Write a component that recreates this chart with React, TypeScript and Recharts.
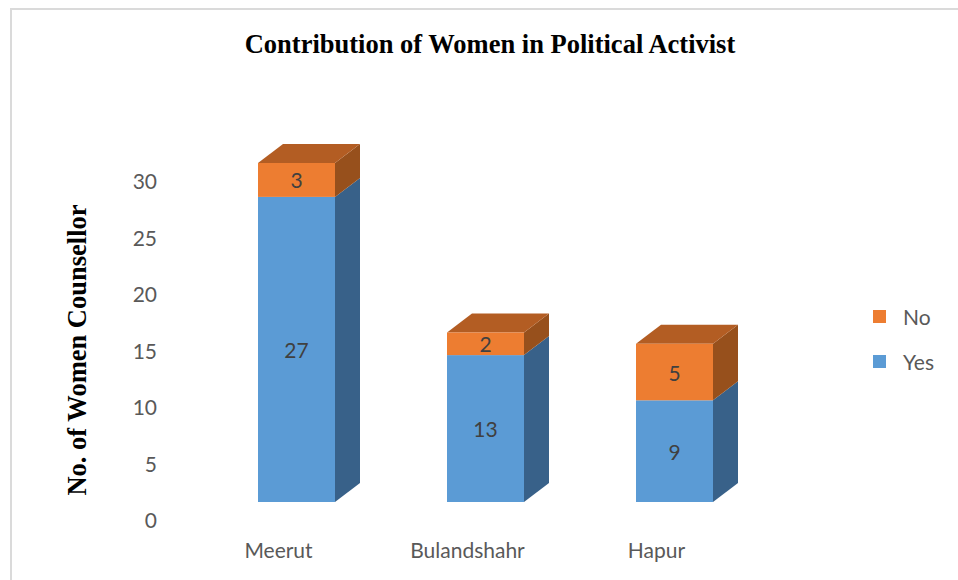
import React from 'react';
import { BarChart, Bar, XAxis, YAxis, LabelList } from 'recharts';

const districts = ['Meerut', 'Bulandshahr', 'Hapur'];
const yesValues = [27, 13, 9];
const noValues = [3, 2, 5];
const yTicks = [0, 5, 10, 15, 20, 25, 30];
const legendNames = ['No', 'Yes'];

const data = districts.map((name, i) => ({ name, Yes: yesValues[i], No: noValues[i] }));

const DEPTH_X = 25;
const DEPTH_Y = 19;
const FONT = 'Lato, "Open Sans", sans-serif';

const faces: Record<string, { front: string; side: string; top: string }> = {
  Yes: { front: '#5B9BD5', side: '#386189', top: '#4A80B3' },
  No: { front: '#ED7D31', side: '#97501C', top: '#B35D23' },
};

const makeBox = (key: 'Yes' | 'No', withTop: boolean) => (props: any) => {
  const { x, y, width, height } = props;
  if (!height || height <= 0) return null;
  const c = faces[key];
  const r = x + width;
  return (
    <g>
      <polygon
        points={`${r},${y} ${r + DEPTH_X},${y - DEPTH_Y} ${r + DEPTH_X},${y + height - DEPTH_Y} ${r},${y + height}`}
        fill={c.side}
      />
      {withTop && (
        <polygon
          points={`${x},${y} ${x + DEPTH_X},${y - DEPTH_Y} ${r + DEPTH_X},${y - DEPTH_Y} ${r},${y}`}
          fill={c.top}
        />
      )}
      <rect x={x} y={y} width={width} height={height} fill={c.front} />
    </g>
  );
};

// Excel draws the value labels on the back wall, a bit below the front face
const YTick = (props: any) => {
  const { y, payload } = props;
  return (
    <text x={157} y={y + 17.5} textAnchor="end" dominantBaseline="central" fill="#595959" fontSize={21} fontFamily={FONT}>
      {payload.value}
    </text>
  );
};

const XTick = (props: any) => {
  const { x, payload } = props;
  return (
    <text x={x - 18} y={549} textAnchor="middle" dominantBaseline="central" fill="#595959" fontSize={21} fontFamily={FONT}>
      {payload.value}
    </text>
  );
};

const ValueLabel = (props: any) => {
  const { x, y, width, height, value } = props;
  return (
    <text x={x + width / 2} y={y + height / 2} textAnchor="middle" dominantBaseline="central" fill="#404040" fontSize={21} fontFamily={FONT}>
      {value}
    </text>
  );
};

export default function App() {
  return (
    <div style={{ position: 'fixed', left: 0, top: 0, width: 958, height: 580, background: '#fff', overflow: 'hidden' }}>
      <div
        style={{
          position: 'absolute',
          left: 10,
          top: 8,
          width: 960,
          height: 600,
          borderTop: '2px solid #DADADA',
          borderLeft: '2px solid #DADADA',
        }}
      />
      <div
        style={{
          position: 'absolute',
          left: 0,
          width: 958,
          top: 26,
          textAlign: 'center',
          paddingLeft: 22,
          boxSizing: 'border-box',
          fontFamily: '"Liberation Serif", "Times New Roman", serif',
          fontWeight: 'bold',
          fontSize: 26.5,
          lineHeight: '36px',
          color: '#000',
        }}
      >
        Contribution of Women in Political Activist
      </div>
      <div
        style={{
          position: 'absolute',
          left: 77,
          top: 350,
          transform: 'translate(-50%, -50%) rotate(-90deg)',
          whiteSpace: 'nowrap',
          fontFamily: '"Liberation Serif", "Times New Roman", serif',
          fontWeight: 'bold',
          fontSize: 26.5,
          lineHeight: '30px',
          color: '#000',
        }}
      >
        No. of Women Counsellor
      </div>
      <div style={{ position: 'absolute', left: 873, top: 294, fontFamily: FONT, fontSize: 21, color: '#595959' }}>
        {legendNames.map((name) => (
          <div key={name} style={{ display: 'flex', alignItems: 'center', height: 45 }}>
            <span style={{ width: 13, height: 13, background: faces[name].front, marginRight: 17, display: 'inline-block' }} />
            <span>{name}</span>
          </div>
        ))}
      </div>
      <div style={{ position: 'absolute', left: 0, top: 0 }}>
        <BarChart width={958} height={580} data={data} margin={{ top: 163, right: 189, bottom: 48, left: 142 }}>
          <XAxis dataKey="name" height={30} axisLine={false} tickLine={false} tick={<XTick />} interval={0} />
          <YAxis domain={[0, 30]} ticks={yTicks} width={60} axisLine={false} tickLine={false} tick={<YTick />} />
          <Bar dataKey="Yes" stackId="a" barSize={77} fill={faces.Yes.front} shape={makeBox('Yes', false)} isAnimationActive={false}>
            <LabelList dataKey="Yes" content={<ValueLabel />} />
          </Bar>
          <Bar dataKey="No" stackId="a" barSize={77} fill={faces.No.front} shape={makeBox('No', true)} isAnimationActive={false}>
            <LabelList dataKey="No" content={<ValueLabel />} />
          </Bar>
        </BarChart>
      </div>
    </div>
  );
}
